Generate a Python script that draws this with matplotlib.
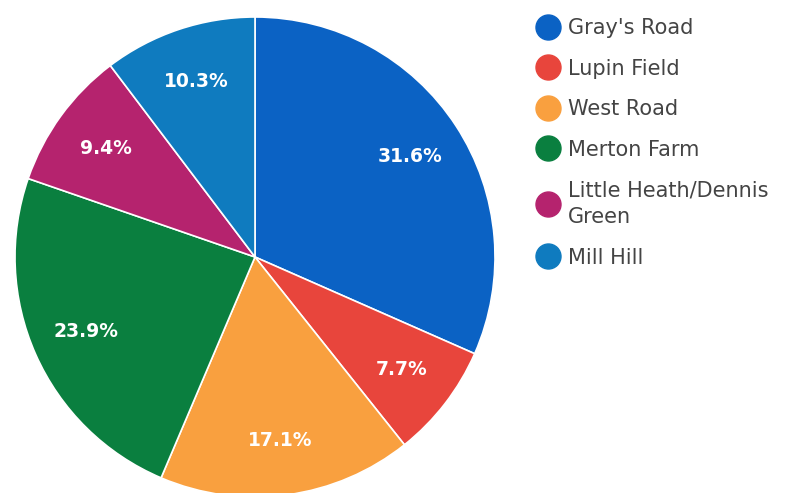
import matplotlib
matplotlib.use("Agg")
import matplotlib.pyplot as plt
from matplotlib.lines import Line2D

categories = ["Gray's Road", "Lupin Field", "West Road", "Merton Farm",
              "Little Heath/Dennis\nGreen", "Mill Hill"]
values = [31.6, 7.7, 17.1, 23.9, 9.4, 10.3]
colors = ["#0B62C4", "#E8453C", "#F9A03F", "#0A7F3F", "#B5236E", "#0F7BBF"]

fig = plt.figure(figsize=(7.92, 4.93), dpi=100)
W, H = 792, 493
cx, cy, r = 255, 257, 240
ax = fig.add_axes([(cx - r) / W, (H - cy - r) / H, 2 * r / W, 2 * r / H])
wedges, texts, autotexts = ax.pie(
    values, colors=colors, startangle=90, counterclock=False,
    autopct="%.1f%%", pctdistance=0.77, radius=1.0,
    wedgeprops=dict(edgecolor="white", linewidth=1.2),
    textprops=dict(color="white", fontsize=13.5, fontweight="semibold"))
ax.set_xlim(-1, 1)
ax.set_ylim(-1, 1)
ax.set_aspect("equal")
ax.axis("off")

handles = [Line2D([0], [0], marker="o", linestyle="none", markersize=18,
                  markerfacecolor=c, markeredgecolor=c) for c in colors]
leg = fig.legend(handles, categories, loc="upper left",
                 bbox_to_anchor=(528 / W, 1 - 10 / H), frameon=False,
                 fontsize=15, labelspacing=0.98, handletextpad=0.4,
                 handlelength=1.1, borderaxespad=0)
for t in leg.get_texts():
    t.set_color("#444444")
    t.set_linespacing(1.45)

fig.savefig("out.png", dpi=100)
